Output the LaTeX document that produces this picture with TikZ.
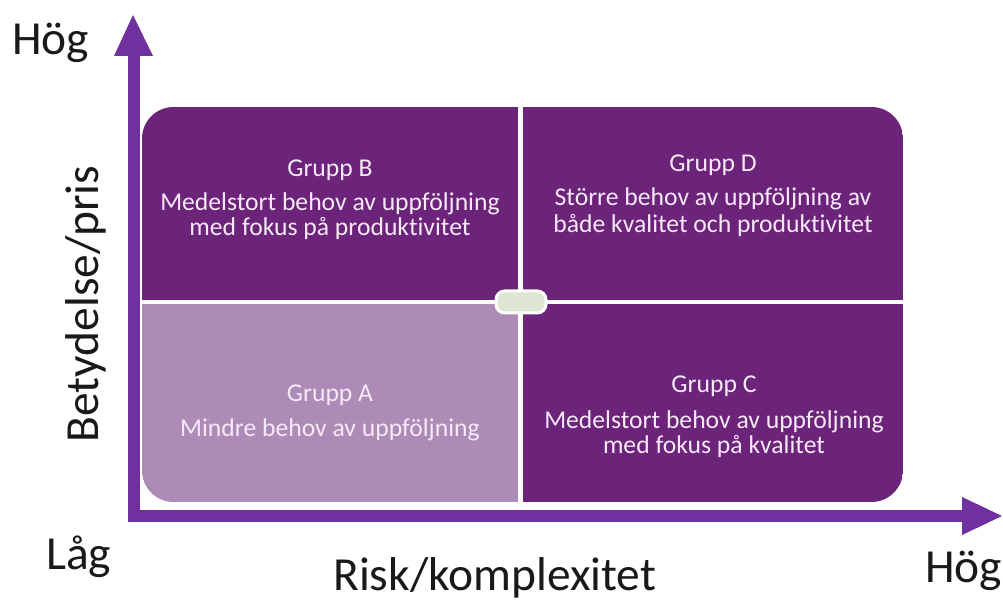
\documentclass[tikz,border=0pt]{standalone}
\usepackage{fontspec}
\setmainfont{Carlito}[Ligatures=NoCommon]
\definecolor{axiscol}{HTML}{7030A0}
\definecolor{darkq}{HTML}{6B2479}
\definecolor{lightq}{HTML}{AD8BB7}
\definecolor{qtext}{HTML}{F8E8F8}
\definecolor{centerfill}{HTML}{DDE5D3}
\tikzset{
  qlabel/.style={anchor=base, inner sep=0pt, text=qtext, font=\fontsize{14.6}{16}\selectfont},
  axlabel/.style={inner sep=0pt, text=black!90, font=\fontsize{27}{30}\selectfont},
  axisline/.style={draw=axiscol, line width=12*0.569pt, miter limit=10},
  arrowtip/.style={fill=axiscol},
}
\begin{document}
\begin{tikzpicture}[x=0.02cm,y=-0.02cm]
\useasboundingbox (0,0) rectangle (1003,607);
\fill[white] (0,0) rectangle (1003,607);
% quadrants
\begin{scope}
  \clip[rounded corners=18] (142,107) rectangle (903,502);
  \fill[darkq] (142,107) rectangle (518,300);
  \fill[darkq] (523,107) rectangle (903,300);
  \fill[lightq] (142,304) rectangle (518,502);
  \fill[darkq] (523,304) rectangle (903,502);
\end{scope}
% center marker
\node[draw=white, line width=3*0.569pt, fill=centerfill, rounded corners=5,
      minimum width=50*0.02cm, minimum height=22*0.02cm, inner sep=0pt] (mid) at (521,302) {};
% axes
\coordinate (ytop) at (134,55);
\coordinate (orig) at (134,516);
\coordinate (xend) at (963,516);
\draw[axisline] (ytop) -- (orig) -- (xend);
\fill[arrowtip] (114,56) -- (133,15) -- (153,56) -- cycle;
\fill[arrowtip] (962,497) -- (1002,516) -- (962,535) -- cycle;
% axis labels
\node[axlabel, anchor=base west] (hogy) at (12,55) {Hög};
\node[axlabel, anchor=base west] (lag) at (46,569) {Låg};
\node[axlabel, anchor=base west] (hogx) at (925,582) {Hög};
\node[axlabel, anchor=base west] (risk) at (333,590) {Risk/komplexitet};
\node[axlabel, anchor=base, rotate=90] (bet) at (98,304) {Betydelse/pris};
% quadrant texts
\node[qlabel] (b1) at (330,177) {Grupp B};
\node[qlabel] (b2) at (330,211) {Medelstort behov av uppföljning};
\node[qlabel] (b3) at (330,236) {med fokus på produktivitet};
\node[qlabel] (d1) at (713,172) {Grupp D};
\node[qlabel] (d2) at (713,206) {Större behov av uppföljning av};
\node[qlabel] (d3) at (713,233) {både kvalitet och produktivitet};
\node[qlabel] (a1) at (330,401) {Grupp A};
\node[qlabel] (a2) at (330,436) {Mindre behov av uppföljning};
\node[qlabel] (c1) at (714,393) {Grupp C};
\node[qlabel] (c2) at (714,428) {Medelstort behov av uppföljning};
\node[qlabel] (c3) at (714,453) {med fokus på kvalitet};
\end{tikzpicture}
\end{document}
